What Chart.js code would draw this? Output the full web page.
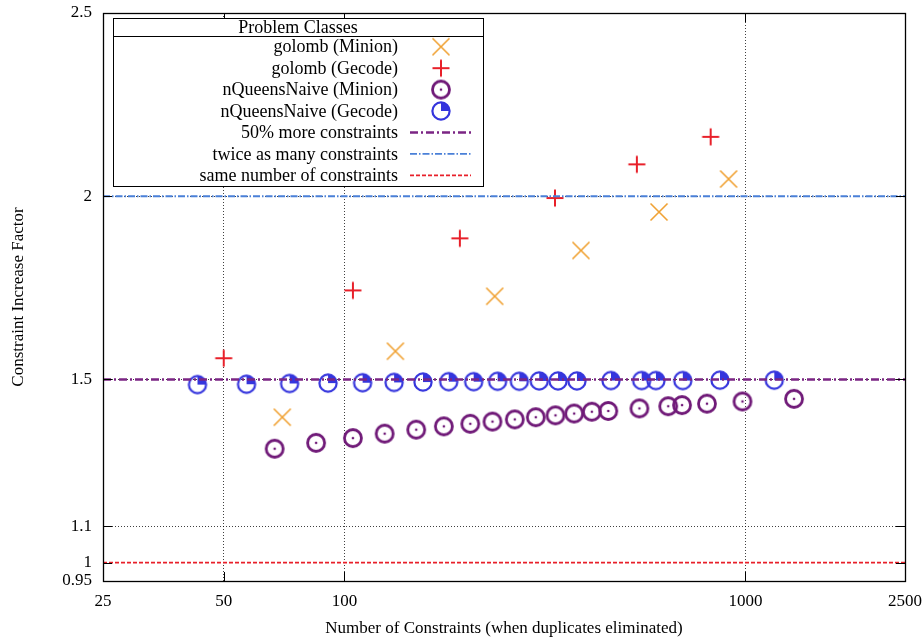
<!DOCTYPE html>
<html>
<head>
<meta charset="utf-8">
<script src="https://cdn.jsdelivr.net/npm/chart.js@4/dist/chart.umd.min.js"></script>
<style>
  html, body { margin: 0; padding: 0; background: #fff; }
  canvas { display: block; }
</style>
</head>
<body>
<canvas id="chart" width="924" height="641"></canvas>
<script>
// values
const golombMinionX = [70, 134, 237, 389, 609, 908]
const golombMinionY = [1.397, 1.577, 1.727, 1.852, 1.957, 2.047]
const golombGecodeX = [50, 105, 194, 335, 536, 819]
const golombGecodeY = [1.558, 1.743, 1.885, 1.995, 2.087, 2.162]
const queensMinionX = [67, 85, 105, 126, 151, 177, 206, 234, 266, 300, 336, 374, 414, 455, 544, 642, 695, 802, 983, 1322]
const queensMinionY = [1.311, 1.327, 1.340, 1.352, 1.363, 1.372, 1.379, 1.385, 1.391, 1.397, 1.402, 1.407, 1.412, 1.414, 1.421, 1.427, 1.430, 1.434, 1.440, 1.447]
const queensGecodeX = [43, 57, 73, 91, 111, 133, 157, 182, 210, 241, 273, 306, 341, 380, 462, 551, 598, 698, 864, 1180]
const queensGecodeY = [1.486, 1.487, 1.489, 1.490, 1.491, 1.492, 1.493, 1.494, 1.494, 1.495, 1.495, 1.496, 1.496, 1.496, 1.497, 1.497, 1.497, 1.497, 1.498, 1.498]
const refLabels = ['50% more constraints', 'twice as many constraints', 'same number of constraints']
const refLevels = [1.5, 2, 1]
const xTicks = [25, 50, 100, 1000, 2500]
const yTicks = [0.95, 1, 1.1, 1.5, 2, 2.5]

const FONT = 'Liberation Serif'

function pts(xs, ys) {
    return xs.map((x, i) => ({ x: x, y: ys[i] }))
}

function makeMarker(draw) {
    const c = document.createElement('canvas')
    c.width = 24
    c.height = 24
    const g = c.getContext('2d')
    g.translate(12, 12)
    draw(g)
    return c
}

const markX = makeMarker(g => {
    g.strokeStyle = '#f0a030'
    g.lineWidth = 1.6
    g.beginPath()
    g.moveTo(-8.5, -8.5); g.lineTo(8.5, 8.5)
    g.moveTo(-8.5, 8.5); g.lineTo(8.5, -8.5)
    g.stroke()
})
const markPlus = makeMarker(g => {
    g.strokeStyle = '#e8202a'
    g.lineWidth = 2
    g.beginPath()
    g.moveTo(-8.5, 0); g.lineTo(8.5, 0)
    g.moveTo(0, -8.5); g.lineTo(0, 8.5)
    g.stroke()
})
const markDot = makeMarker(g => {
    g.strokeStyle = '#701a78'
    g.fillStyle = '#701a78'
    g.lineWidth = 2.8
    g.beginPath()
    g.arc(0, 0, 8.5, 0, Math.PI * 2)
    g.stroke()
    g.beginPath()
    g.arc(0, 0, 1.3, 0, Math.PI * 2)
    g.fill()
})
const markPie = makeMarker(g => {
    g.strokeStyle = '#3535dd'
    g.fillStyle = '#3535dd'
    g.lineWidth = 2.2
    g.beginPath()
    g.arc(0, 0, 8.6, 0, Math.PI * 2)
    g.stroke()
    g.beginPath()
    g.moveTo(0, 0)
    g.arc(0, 0, 8.6, -Math.PI / 2, 0)
    g.closePath()
    g.fill()
})

const refStyles = [
    { color: '#7b2584', width: 2.6, dash: [8, 3, 2, 3] },
    { color: '#4a80d8', width: 1.8, dash: [7, 2, 1.5, 2] },
    { color: '#e8202a', width: 1.8, dash: [4, 2] }
]

const pointSets = [
    { label: 'golomb (Minion)', marker: markX, data: pts(golombMinionX, golombMinionY) },
    { label: 'golomb (Gecode)', marker: markPlus, data: pts(golombGecodeX, golombGecodeY) },
    { label: 'nQueensNaive (Minion)', marker: markDot, data: pts(queensMinionX, queensMinionY) },
    { label: 'nQueensNaive (Gecode)', marker: markPie, data: pts(queensGecodeX, queensGecodeY) }
]

const datasets = []
pointSets.forEach((s, i) => {
    datasets.push({
        label: s.label,
        data: s.data,
        pointStyle: s.marker,
        pointRadius: 9,
        showLine: false,
        order: 1 + i,
        _marker: s.marker
    })
})
refLevels.forEach((lv, i) => {
    datasets.push({
        type: 'line',
        label: refLabels[i],
        data: [{ x: xTicks[0], y: lv }, { x: xTicks[xTicks.length - 1], y: lv }],
        borderColor: refStyles[i].color,
        borderWidth: refStyles[i].width,
        borderDash: refStyles[i].dash,
        pointRadius: 0,
        showLine: true,
        fill: false,
        order: 0,
        _ref: refStyles[i]
    })
})

// frame, inward ticks (gnuplot style) and the boxed key
const framePlugin = {
    id: 'frame',
    afterDatasetsDraw(chart) {
        const ctx = chart.ctx
        const a = chart.chartArea
        const xs = chart.scales.x
        const ys = chart.scales.y
        ctx.save()
        ctx.strokeStyle = '#000'
        ctx.lineWidth = 1
        ctx.setLineDash([])
        ctx.beginPath()
        xTicks.forEach(v => {
            const px = Math.round(xs.getPixelForValue(v)) + 0.5
            ctx.moveTo(px, a.bottom); ctx.lineTo(px, a.bottom - 9)
            ctx.moveTo(px, a.top); ctx.lineTo(px, a.top + 9)
        })
        yTicks.forEach(v => {
            const py = Math.round(ys.getPixelForValue(v)) + 0.5
            ctx.moveTo(a.left, py); ctx.lineTo(a.left + 9, py)
            ctx.moveTo(a.right, py); ctx.lineTo(a.right - 9, py)
        })
        ctx.stroke()
        ctx.lineWidth = 1.3
        ctx.strokeRect(Math.round(a.left) + 0.5, Math.round(a.top) + 0.5,
            Math.round(a.right - a.left), Math.round(a.bottom - a.top))

        // key
        const L = a.left + 10, T = a.top + 5, R = a.left + 380, B = a.top + 173
        const titleH = 18
        const rowH = (B - T - titleH) / 7
        ctx.fillStyle = '#fff'
        ctx.fillRect(L, T, R - L, B - T)
        ctx.lineWidth = 1
        ctx.strokeStyle = '#000'
        ctx.strokeRect(L + 0.5, T + 0.5, R - L, B - T)
        ctx.beginPath()
        ctx.moveTo(L, T + titleH + 0.5); ctx.lineTo(R, T + titleH + 0.5)
        ctx.stroke()
        ctx.fillStyle = '#000'
        ctx.font = '18px "' + FONT + '"'
        ctx.textBaseline = 'middle'
        ctx.textAlign = 'center'
        ctx.fillText('Problem Classes', (L + R) / 2, T + titleH / 2 + 1)
        chart.data.datasets.forEach((ds, r) => {
            const cy = T + titleH + rowH * (r + 0.5)
            ctx.fillStyle = '#000'
            ctx.textAlign = 'right'
            ctx.fillText(ds.label, L + 285, cy + 1)
            if (ds._marker) {
                ctx.drawImage(ds._marker, L + 328 - 12, cy - 12)
            } else {
                ctx.save()
                ctx.strokeStyle = ds._ref.color
                ctx.lineWidth = ds._ref.width
                ctx.setLineDash(ds._ref.dash)
                ctx.beginPath()
                ctx.moveTo(L + 297, cy); ctx.lineTo(L + 358, cy)
                ctx.stroke()
                ctx.restore()
            }
        })
        ctx.restore()
    }
}

new Chart(document.getElementById('chart').getContext('2d'), {
    type: 'scatter',
    data: { datasets: datasets },
    options: {
        responsive: false,
        devicePixelRatio: 1,
        animation: false,
        layout: { padding: { left: 0, right: 19, top: 13, bottom: 0 } },
        plugins: {
            legend: { display: false },
            tooltip: { enabled: false }
        },
        scales: {
            x: {
                type: 'logarithmic',
                min: 25,
                max: 2500,
                afterBuildTicks: s => { s.ticks = xTicks.map(v => ({ value: v })) },
                afterFit: s => { s.height = 60; s.paddingLeft = 0; s.paddingRight = 0 },
                ticks: {
                    callback: v => String(v),
                    autoSkip: false,
                    maxRotation: 0,
                    padding: 10,
                    color: '#000',
                    font: { family: FONT, size: 17 }
                },
                grid: { color: 'rgba(0,0,0,0.75)', lineWidth: 1, drawTicks: false },
                border: { display: false, dash: [1, 2] },
                title: {
                    display: true,
                    text: 'Number of Constraints (when duplicates eliminated)',
                    color: '#000',
                    font: { family: FONT, size: 17 },
                    padding: { top: 0, bottom: 2 }
                }
            },
            y: {
                type: 'linear',
                min: 0.95,
                max: 2.5,
                afterBuildTicks: s => { s.ticks = yTicks.map(v => ({ value: v })) },
                afterFit: s => { s.width = 103; s.paddingTop = 0; s.paddingBottom = 0 },
                ticks: {
                    callback: v => String(v),
                    autoSkip: false,
                    padding: 11,
                    color: '#000',
                    font: { family: FONT, size: 17 }
                },
                grid: { color: 'rgba(0,0,0,0.75)', lineWidth: 1, drawTicks: false },
                border: { display: false, dash: [1, 2] },
                title: {
                    display: true,
                    text: 'Constraint Increase Factor',
                    color: '#000',
                    font: { family: FONT, size: 17 },
                    padding: { top: 8, bottom: 0 }
                }
            }
        }
    },
    plugins: [framePlugin]
})
</script>
</body>
</html>
